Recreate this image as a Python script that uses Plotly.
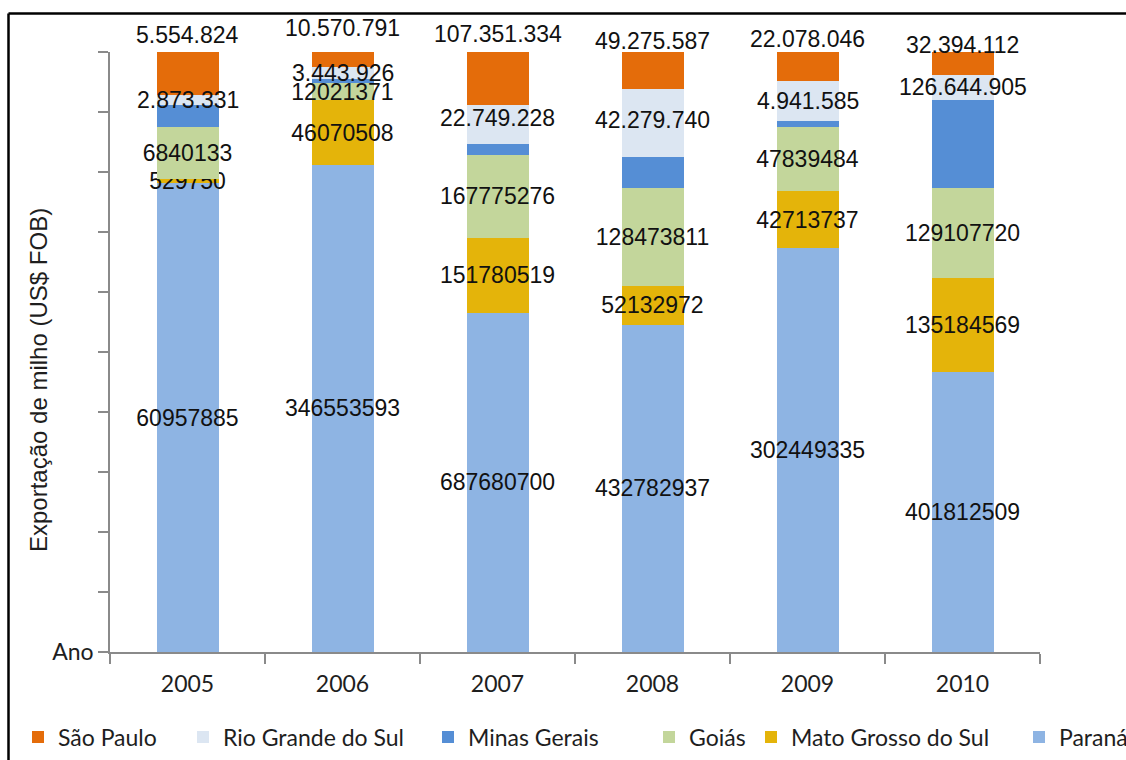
import numpy as np
import plotly.graph_objects as go

# Corn exports by state (US$ FOB)
years = ["2005", "2006", "2007", "2008", "2009", "2010"]
parana = [60957885, 346553593, 687680700, 432782937, 302449335, 401812509]
mato_grosso_do_sul = [529750, 46070508, 151780519, 52132972, 42713737, 135184569]
goias = [6840133, 12021371, 167775276, 128473811, 47839484, 129107720]
minas_gerais = [2873331, 3443926, 22749228, 42279740, 4941585, 126644905]
rio_grande_do_sul = [1300000, 8300000, 78000000, 89000000, 29300000, 35900000]
sao_paulo = [5554824, 10570791, 107351334, 49275587, 22078046, 32394112]

y_title = "Exportação de milho (US$ FOB)"
y_tick_labels = ["Ano"] + [""] * 10

LABEL_FONT = dict(family="Liberation Sans, Arial", size=23, color="#111111")
UI_FONT = dict(family="Lato, Open Sans", size=23, color="#1e1e1e")
AXIS_GREY = "#8a8a8a"

# plot area in pixels (used to convert pixel spots to paper fractions)
L, R, T, B = 110, 1040, 52, 652
W, H = 1126, 760


def px_x(px):
    return (px - L) / (R - L)


def px_y(py):
    return (B - py) / (B - T)


def dotted(v):
    return f"{v:,}".replace(",", ".")


# bottom to top of the stack: name, values, colour, centred label, legend slot
series = [
    ("Paraná", parana, "#8EB4E3", True, "legend6"),
    ("Mato Grosso do Sul", mato_grosso_do_sul, "#E4B40A", True, "legend5"),
    ("Goiás", goias, "#C3D69B", True, "legend4"),
    ("Minas Gerais", minas_gerais, "#558ED5", False, "legend3"),
    ("Rio Grande do Sul", rio_grande_do_sul, "#DCE6F2", False, "legend2"),
    ("São Paulo", sao_paulo, "#E46C0A", False, "legend"),
]

fig = go.Figure()
for name, vals, color, labelled, leg in series:
    fig.add_trace(go.Bar(
        x=years, y=vals, name=name, legend=leg, showlegend=True,
        marker=dict(color=color, line=dict(width=0)),
        text=[str(v) for v in vals] if labelled else None,
        texttemplate="%{text}" if labelled else None,
        textposition="inside" if labelled else "none",
        insidetextanchor="middle", textangle=0,
        textfont=LABEL_FONT, constraintext="none",
        hoverinfo="skip",
    ))

# shares used to place the free-standing labels
tot = (np.array(parana) + np.array(mato_grosso_do_sul) + np.array(goias)
       + np.array(minas_gerais) + np.array(rio_grande_do_sul) + np.array(sao_paulo))
below_rs = (np.array(parana) + np.array(mato_grosso_do_sul) + np.array(goias)
            + np.array(minas_gerais)) / tot * 100
rs_mid = below_rs + np.array(rio_grande_do_sul) / tot * 100 / 2

sp_lift = [17, 24, 18, 11, 13, 7]
mg_lift = [0, 0, 6, 3, 0, 0]

annotations = []
for i, yr in enumerate(years):
    # category axis: annotations are placed by category index
    annotations.append(dict(
        x=i, y=100, xref="x", yref="y", text=dotted(sao_paulo[i]),
        showarrow=False, yanchor="middle", yshift=sp_lift[i], font=LABEL_FONT))
    annotations.append(dict(
        x=i, y=float(rs_mid[i]), xref="x", yref="y", text=dotted(minas_gerais[i]),
        showarrow=False, yanchor="middle", yshift=mg_lift[i], font=LABEL_FONT))

annotations.append(dict(
    x=px_x(38), y=px_y(380), xref="paper", yref="paper", text=y_title,
    textangle=-90, showarrow=False, xanchor="center", yanchor="middle",
    font=dict(family="Liberation Sans, Arial", size=24, color="#1e1e1e")))

# outer frame (left and top edges)
frame_x = px_x(8.5)
frame_y = px_y(13.5)
shapes = [
    dict(type="line", xref="paper", yref="paper", x0=frame_x, x1=frame_x,
         y0=px_y(800), y1=frame_y, line=dict(color="black", width=2.5)),
    dict(type="line", xref="paper", yref="paper", x0=frame_x, x1=px_x(1200),
         y0=frame_y, y1=frame_y, line=dict(color="black", width=2.5)),
]

legend_text_left = {"legend": 59, "legend2": 224, "legend3": 469,
                    "legend4": 690, "legend5": 792, "legend6": 1060}
legends = {}
for key, px in legend_text_left.items():
    legends[key] = dict(
        orientation="h", x=px_x(px - 41), xanchor="left",
        y=px_y(737), yanchor="middle", font=UI_FONT,
        bgcolor="rgba(0,0,0,0)", borderwidth=0, visible=True,
    )

fig.update_layout(
    width=W, height=H, showlegend=True,
    margin=dict(l=L, r=W - R, t=T, b=H - B, autoexpand=False),
    paper_bgcolor="white", plot_bgcolor="white",
    barmode="stack", barnorm="percent", bargap=0.6,
    uniformtext=dict(minsize=23, mode="show"),
    xaxis=dict(
        type="category", categoryorder="array", categoryarray=years,
        range=[-0.5, len(years) - 0.5],
        showline=True, linecolor=AXIS_GREY, linewidth=1.5,
        ticks="outside", tickson="boundaries", ticklen=10, tickwidth=1.5,
        tickcolor=AXIS_GREY, tickfont=UI_FONT, ticklabelstandoff=11,
        showgrid=False, zeroline=False,
    ),
    yaxis=dict(
        range=[0, 100], tickvals=list(range(0, 101, 10)), ticktext=y_tick_labels,
        showline=True, linecolor=AXIS_GREY, linewidth=1.5,
        ticks="outside", ticklen=10, tickwidth=1.5, tickcolor=AXIS_GREY,
        tickfont=UI_FONT, showgrid=False, zeroline=False,
    ),
    annotations=annotations,
    shapes=shapes,
    **legends,
)

fig.write_html("out.html")
